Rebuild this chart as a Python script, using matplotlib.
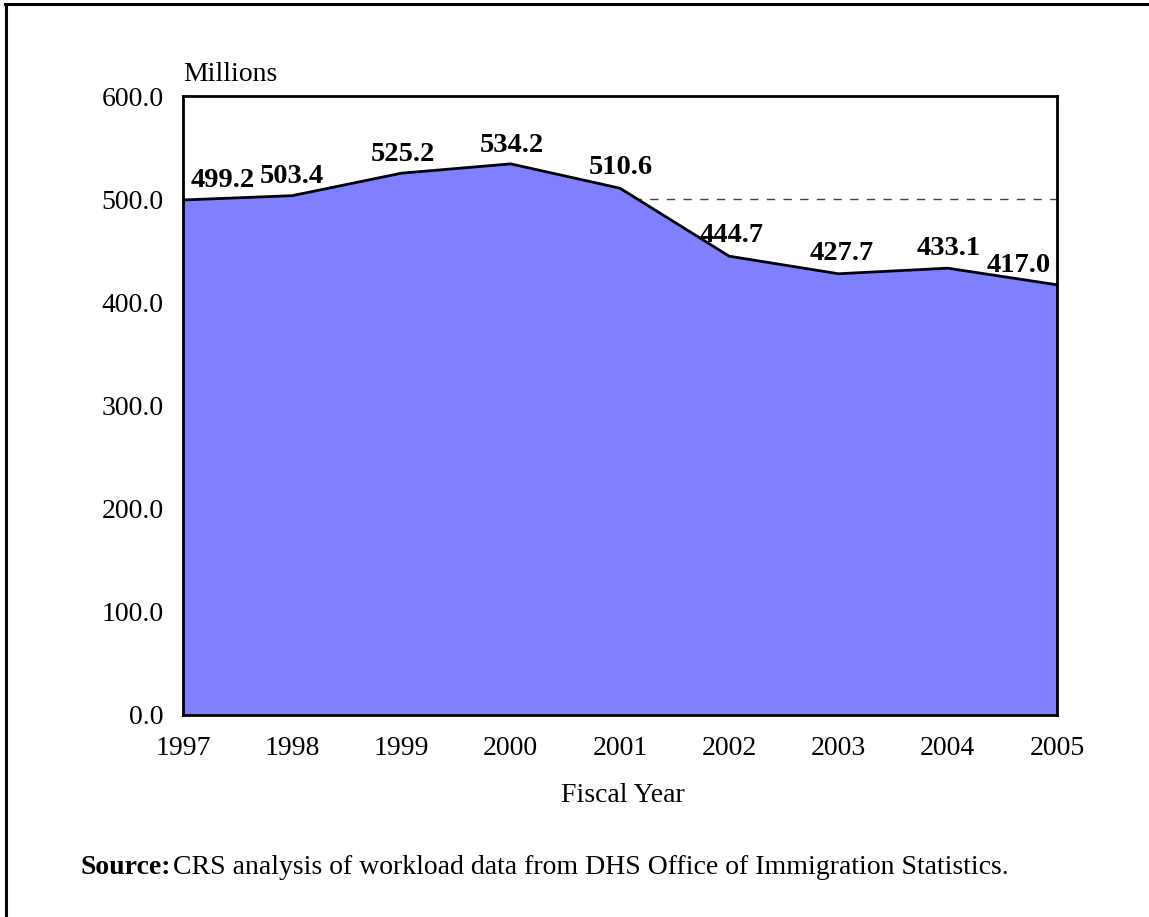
import matplotlib
matplotlib.use("Agg")
import matplotlib.pyplot as plt
from matplotlib.lines import Line2D

years = [1997, 1998, 1999, 2000, 2001, 2002, 2003, 2004, 2005]
values = [499.2, 503.4, 525.2, 534.2, 510.6, 444.7, 427.7, 433.1, 417.0]
yticks = [0, 100, 200, 300, 400, 500, 600]

# label offsets in pixels (dx, dy) relative to each point
label_dx = [40, 0, 1, 1, 1, 2, 3, 1, -38]
label_dy = [13, 13, 12, 12, 14, 14, 14, 13, 13]

plt.rcParams['font.family'] = ['Liberation Serif', 'DejaVu Serif']

W, H, DPI = 1149, 917, 100
fig = plt.figure(figsize=(W / DPI, H / DPI), dpi=DPI)
L, R, T, B = 183, 1057, 96, 715
ax = fig.add_axes([L / W, 1 - B / H, (R - L) / W, (B - T) / H])

ax.axhline(500, color='#444444', lw=1.0, ls=(0, (6, 6)), zorder=1)
ax.fill_between(years, values, 0, color='#8080FF', lw=0, zorder=2)
ax.plot(years, values, color='black', lw=2, zorder=3)

ax.set_xlim(years[0], years[-1])
ax.set_ylim(0, 600)
ax.set_xticks(years)
ax.set_xticklabels([str(y) for y in years])
ax.set_yticks(yticks)
ax.set_yticklabels([f"{v:.1f}" for v in yticks])
ax.tick_params(axis='both', length=0, labelsize=20)
ax.tick_params(axis='y', pad=14)
ax.tick_params(axis='x', pad=15)
for s in ax.spines.values():
    s.set_linewidth(2)
    s.set_zorder(5)

for x, v, dx, dy in zip(years, values, label_dx, label_dy):
    ax.annotate(f"{v:.1f}", (x, v), xytext=(dx, dy), textcoords='offset pixels',
                ha='center', va='baseline', fontsize=20.5, fontweight='bold',
                zorder=6, annotation_clip=False)

fig.text(L / W, 1 - 81 / H, "Millions", ha='left', va='baseline', fontsize=20)
fig.text(623 / W, 1 - 802 / H, "Fiscal Year", ha='center', va='baseline', fontsize=20)
fig.text(80 / W, 1 - 874 / H, "Source:", ha='left', va='baseline', fontsize=20,
         fontweight='bold')
fig.text(173 / W, 1 - 874 / H, "CRS analysis of workload data from DHS Office of Immigration Statistics.",
         ha='left', va='baseline', fontsize=20)

# partial frame: top and left borders
fig.add_artist(Line2D([6 / W, 6 / W], [0, 1 - 4 / H], color='black', lw=2.2,
                      transform=fig.transFigure))
fig.add_artist(Line2D([5 / W, 1], [1 - 4 / H, 1 - 4 / H], color='black', lw=2.2,
                      transform=fig.transFigure))

fig.savefig("out.png", dpi=DPI)
